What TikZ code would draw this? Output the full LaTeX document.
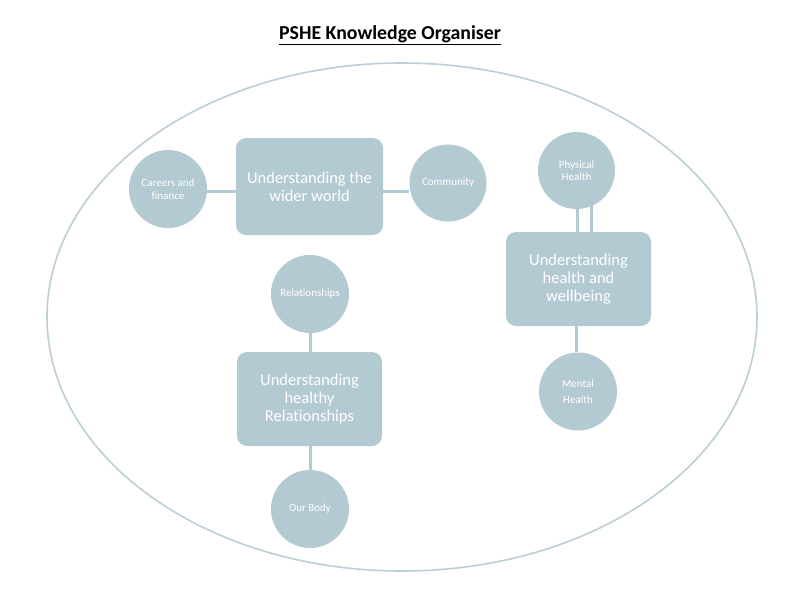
\documentclass[tikz,border=0pt]{standalone}
\usepackage{fontspec}
\setmainfont[Ligatures={NoCommon}]{Carlito}
\definecolor{nodefill}{HTML}{B4CAD2}
\definecolor{ringcol}{HTML}{BCCFD6}
\begin{document}
\begin{tikzpicture}[x=1pt,y=-1pt,
  topic/.style={draw=none,fill=nodefill,rounded corners=10pt,minimum width=145pt,minimum height=95pt,
    text=white,align=center,font=\fontsize{16.5}{18}\selectfont,inner sep=0pt},
  sub/.style={circle,draw=none,fill=nodefill,minimum size=78pt,inner sep=0pt,text=white,align=center,
    font=\fontsize{11}{12.5}\selectfont},
  link/.style={draw=nodefill,line width=3pt}]
\useasboundingbox (0,0) rectangle (800,600);
\fill[white] (0,0) rectangle (800,600);
\node[font=\bfseries\fontsize{19.8}{22}\selectfont] (title) at (390,35) {\underline{PSHE Knowledge Organiser}};
\draw[ringcol,line width=1.6pt] (402,317) ellipse [x radius=355, y radius=254];
% wider world
\node[topic,minimum width=147pt,minimum height=97pt] (ww) at (309.5,186.5) {Understanding the\\wider world};
\node[sub] (car) at (168,189) {Careers and\\finance};
\node[sub,minimum size=77pt] (com) at (448,183) {Community};
\coordinate (wwl) at ([yshift=-4.5pt]ww.west);
\coordinate (wwr) at ([yshift=-4.5pt]ww.east);
\draw[link] (car.east |- wwl) -- (wwl);
\draw[link] (wwr) -- (com.west |- wwr);
% health
\node[topic,minimum width=145pt,minimum height=94pt] (hw) at (578.5,279) {Understanding\\health and\\wellbeing};
\node[sub,minimum size=77pt] (phy) at (576.5,170.5) {Physical\\Health};
\node[sub,font=\fontsize{11}{16}\selectfont] (men) at (578,391.5) {Mental\\Health};
\coordinate (p1) at (577,208);
\coordinate (p2) at (591,205);
\draw[link] (p1) -- (p1 |- hw.north);
\draw[link] (p2) -- (p2 |- hw.north);
\draw[link] (hw.south -| 576,0) -- (men.north -| 576,0);
% relationships
\node[topic,minimum width=145pt,minimum height=94pt] (rel) at (309.5,399) {Understanding\\healthy\\Relationships};
\node[sub] (rc) at (310,294) {Relationships};
\node[sub] (ob) at (310,509) {Our Body};
\draw[link] (rc.south) -- (rel.north -| rc.south);
\draw[link] (rel.south -| ob.north) -- (ob.north);
\end{tikzpicture}
\end{document}
